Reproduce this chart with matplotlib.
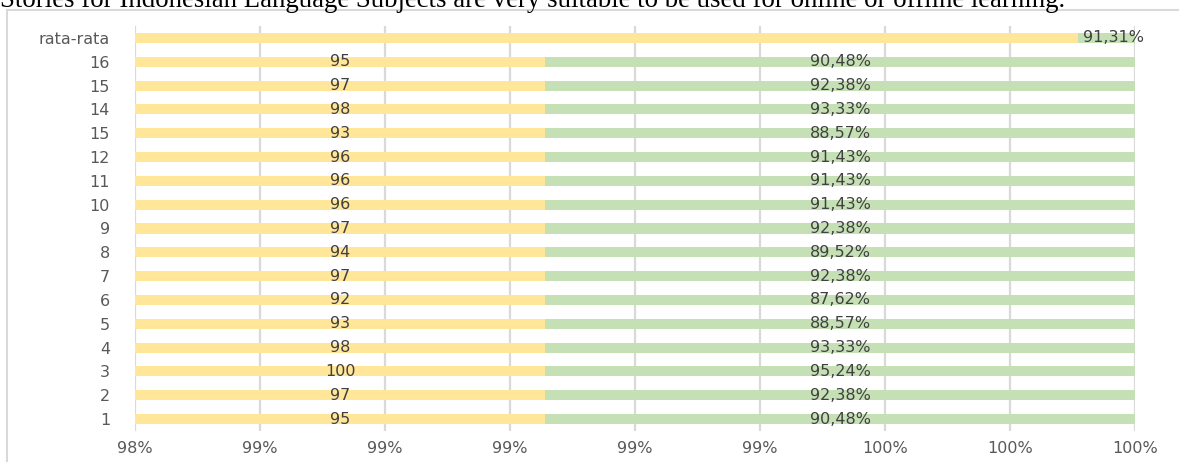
import matplotlib
matplotlib.use("Agg")
import matplotlib.pyplot as plt
from matplotlib.patches import Rectangle
from matplotlib.ticker import FuncFormatter, MultipleLocator

# ---- data (bottom to top) ----
categories = ['1', '2', '3', '4', '5', '6', '7', '8', '9', '10', '11', '12',
              '15', '14', '15', '16', 'rata-rata']
scores = [95, 97, 100, 98, 93, 92, 97, 94, 97, 96, 96, 96, 93, 98, 97, 95, 1000]
percents = [90.48, 92.38, 95.24, 93.33, 88.57, 87.62, 92.38, 89.52, 92.38,
            91.43, 91.43, 91.43, 88.57, 93.33, 92.38, 90.48, 91.31]
show_score_label = [True] * 16 + [False]

title_text = ("Stories for Indonesian Language Subjects are very suitable to be "
              "used for online or offline learning.")

YELLOW = '#FFE699'
GREEN = '#C5E0B4'
TXT = '#404040'
AX_TXT = '#595959'
GRID = '#D9D9D9'
FONT = 'DejaVu Sans'
FS = 11.5

W, H = 1179, 462
fig = plt.figure(figsize=(W / 100, H / 100), dpi=100)

# surrounding frame of the chart object
fig.patches.append(Rectangle((7 / W, -0.2), 1.2, 1.2 - 9.5 / H,
                             transform=fig.transFigure, fill=False,
                             edgecolor=GRID, linewidth=1.5, zorder=0))
# document text above (cut off)
fig.text(0.0, 1 - 7 / H, title_text, fontfamily='Liberation Serif',
         fontsize=19.4, color='black', va='baseline', ha='left')

ax = fig.add_axes([135 / W, 1 - 431 / H, 1000 / W, 405 / H])

xmin, xmax = 0.984, 1.0
ypos = list(range(len(categories)))
totals = [s + p / 100 for s, p in zip(scores, percents)]
yshare = [s / t for s, t in zip(scores, totals)]
gshare = [(p / 100) / t for p, t in zip(percents, totals)]

bh = 0.42
ax.barh(ypos, yshare, height=bh, color=YELLOW, zorder=2)
ax.barh(ypos, gshare, left=yshare, height=bh, color=GREEN, zorder=2)

for y, ys, gs, s, p, show in zip(ypos, yshare, gshare, scores, percents,
                                 show_score_label):
    if show:
        cx = (xmin + ys) / 2
        ax.text(cx, y, f"{s}", ha='center', va='center', color=TXT,
                fontsize=FS, fontfamily=FONT, zorder=3)
    gx = ys + gs / 2
    lbl = f"{p:.2f}".replace('.', ',') + '%'
    if not show:
        gx = gx + 0.00012
    ax.text(gx, y, lbl, ha='center', va='center', color=TXT,
            fontsize=FS, fontfamily=FONT, zorder=3, clip_on=False)

ax.set_xlim(xmin, xmax)
ax.set_ylim(-0.5, len(categories) - 0.5)
ax.xaxis.set_major_locator(MultipleLocator(0.002))
ax.xaxis.set_major_formatter(FuncFormatter(lambda v, _: f"{v * 100:.0f}%"))
ax.set_yticks(ypos)
ax.set_yticklabels(categories)
ax.grid(axis='x', color=GRID, linewidth=1.6, zorder=0)
ax.set_axisbelow(True)
for sp in ax.spines.values():
    sp.set_visible(False)
ax.tick_params(axis='both', length=0, colors=AX_TXT, labelsize=FS)
ax.tick_params(axis='x', pad=7)
ax.tick_params(axis='y', pad=18)
for t in ax.get_xticklabels() + ax.get_yticklabels():
    t.set_fontfamily(FONT)

fig.savefig('out.png', dpi=100)
